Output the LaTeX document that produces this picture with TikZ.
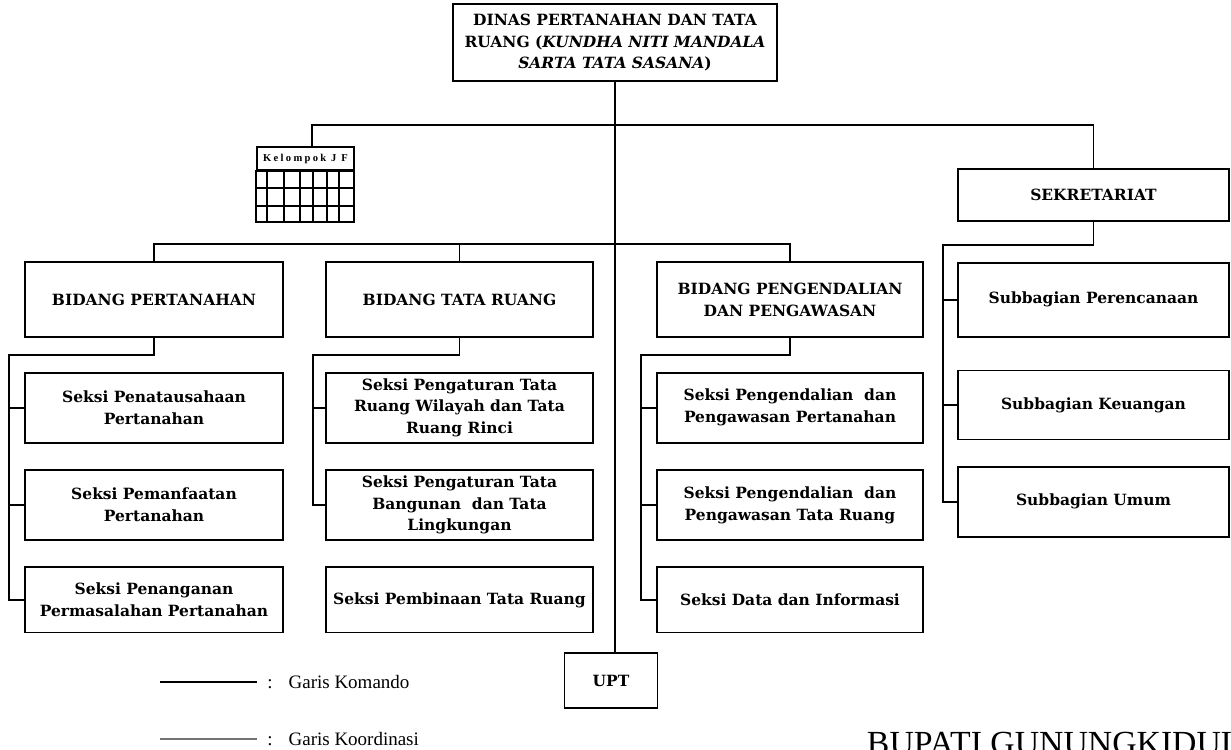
\documentclass[tikz,border=0pt]{standalone}
\usepackage{fontspec}
\setmainfont{DejaVu Serif}
\newfontfamily\legendfont{Liberation Serif}
\usetikzlibrary{positioning}

\begin{document}
\begin{tikzpicture}[x = 0.025cm, y = -0.025cm, % one unit = one pixel of the scan
                line width = 1.4pt, % line style
                node distance = 0.64cm % gap between stacked boxes
            ]

            \tikzstyle{every node}=[inner sep = 1pt, align = center]
            \tikzstyle{unit}=[draw = black, rectangle, line width = 1.2pt,
            font = \bfseries\fontsize{11}{15.5}\selectfont]
            \tikzstyle{bidang}=[unit, minimum height = 1.875cm]
            \tikzstyle{seksi}=[unit, minimum height = 1.75cm]
            \tikzstyle{w1}=[minimum width = 6.45cm]
            \tikzstyle{w2}=[minimum width = 6.675cm]
            \tikzstyle{w3}=[minimum width = 6.65cm]
            \tikzstyle{w4}=[minimum width = 6.775cm]
            \tikzstyle{legend}=[anchor = west,
            font = \legendfont\fontsize{13.5}{16}\selectfont]

            \useasboundingbox (0,0) rectangle (1231,750);

            \node[unit, minimum width = 8.1cm, minimum height = 1.925cm] (0) at
            (615,42.5) {DINAS PERTANAHAN DAN TATA\\RUANG (\textit{KUNDHA NITI
                MANDALA}\\\textit{SARTA TATA SASANA})};

            \node[bidang, w1] (1) at (154,299.5) {BIDANG PERTANAHAN};
            \node[bidang, w2] (2) at (459.5,299.5) {BIDANG TATA RUANG};
            \node[bidang, w3] (3) at (790,299.5) {BIDANG PENGENDALIAN\\DAN
                PENGAWASAN};
            \node[unit, w4, minimum height = 1.3cm] (4) at (1093.5,195)
            {SEKRETARIAT};
            \node[unit, minimum width = 2.325cm, minimum height = 1.375cm] (5)
            at (611,680.5) {UPT};

            \node[seksi, w1] (11) [below = 0.85cm of 1] {Seksi
                Penatausahaan\\Pertanahan};
            \node[seksi, w1] (12) [below = of 11] {Seksi
                Pemanfaatan\\Pertanahan};
            \node[seksi, w1, minimum height = 1.625cm] (13) [below = of 12]
            {Seksi Penanganan\\Permasalahan Pertanahan};

            \node[seksi, w2] (21) [below = 0.85cm of 2] {Seksi Pengaturan
                Tata\\Ruang Wilayah dan Tata\\Ruang Rinci};
            \node[seksi, w2] (22) [below = of 21] {Seksi Pengaturan
                Tata\\Bangunan~ dan Tata\\Lingkungan};
            \node[seksi, w2, minimum height = 1.625cm] (23) [below = of 22]
            {Seksi Pembinaan Tata Ruang};

            \node[seksi, w3] (31) [below = 0.85cm of 3] {Seksi Pengendalian~
                dan\\Pengawasan Pertanahan};
            \node[seksi, w3] (32) [below = of 31] {Seksi Pengendalian~
                dan\\Pengawasan Tata Ruang};
            \node[seksi, w3, minimum height = 1.625cm] (33) [below = of 32]
            {Seksi Data dan Informasi};

            \node[seksi, w4, minimum height = 1.85cm] (41) [below = 1.0cm of 4]
            {Subbagian Perencanaan};
            \node[seksi, w4, minimum height = 1.725cm] (42) [below = 0.8cm of
                41] {Subbagian Keuangan};
            \node[seksi, w4] (43) [below = of 42] {Subbagian Umum};

            % kelompok jabatan fungsional
            \node[draw, line width = 1.2pt, minimum width = 2.425cm,
            minimum height = 0.575cm, inner sep = 0pt,
            font = \legendfont\bfseries\fontsize{7.5}{8}\selectfont
            \addfontfeature{LetterSpace=22}] (jf) at (305.5,158.5)
            {Kelompok J F};
            \draw[line width = 1.2pt] (jf.south west) rectangle (354,222);
            \foreach \y in {188,206} \draw[line width = 1.2pt] (257,\y) --
            (354,\y);
            \foreach \x in {267,284,300,313,327,339} \draw[line width = 1.2pt]
            (\x,170) -- (\x,222);

            % garis komando
            \coordinate (b1) at (615,125); \coordinate (b2) at (615,244);
            \coordinate (jfdrop) at (312,147);
            \coordinate (1s) at (9,355); \coordinate (2s) at (313,355);
            \coordinate (3s) at (641,355); \coordinate (4s) at (943,245);

            \draw (0) -- (0 |- 5.north);
            \draw (jfdrop) |- (b1) -| (4);
            \draw (1) |- (b2) -| (3); \draw (2) -- (2 |- b2);

            \draw (1) |- (1s) |- (13); \draw (1s |- 11) -- (11); \draw (1s |-
            12) -- (12);
            \draw (2) |- (2s) |- (22); \draw (2s |- 21) -- (21);
            \draw (3) |- (3s) |- (33); \draw (3s |- 31) -- (31); \draw (3s |-
            32) -- (32);
            \draw (4) |- (4s) |- (43); \draw (4s |- 41) -- (41); \draw (4s |-
            42) -- (42);

            % keterangan
            \coordinate (k1) at (160,682); \coordinate (k2) at (257,682);
            \coordinate (k3) at (160,739); \coordinate (k4) at (257,739);
            \draw (k1) -- (k2); \draw[black!55, line width = 1.8pt] (k3) -- (k4);
            \node[legend] (lk) at (265,682) {:\hspace{4mm}Garis Komando};
            \node[legend] (lc) at (265,739) {:\hspace{4mm}Garis Koordinasi};

            \node[font = \legendfont\fontsize{24}{24}\selectfont,
            anchor = base west, inner sep = 0pt] (bupati) at (866,754)
            {BUPATI GUNUNGKIDUL};
\end{tikzpicture}
\end{document}
